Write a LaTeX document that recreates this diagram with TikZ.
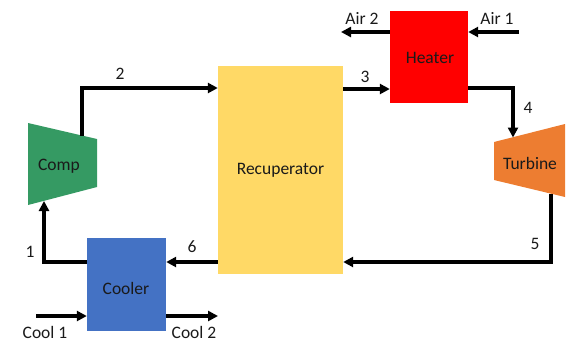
\documentclass[tikz,border=0pt]{standalone}
\usepackage{fontspec}
\setmainfont{Carlito}
\usetikzlibrary{arrows.meta}
\definecolor{recup}{HTML}{FFD966}
\definecolor{heat}{HTML}{FF0000}
\definecolor{cool}{HTML}{4472C4}
\definecolor{comp}{HTML}{359A63}
\definecolor{turb}{HTML}{ED7D31}
\definecolor{txt}{HTML}{1A1A1A}
\tikzset{
  unitbox/.style={fill=#1, draw=none, inner sep=0pt, text=txt},
  flow/.style={line width=3.2pt, -{Triangle[length=10pt,width=10pt]}, line join=miter},
  lbl/.style={text=txt, inner sep=0pt}
}
\begin{document}
\begin{tikzpicture}[x=1pt,y=-1pt,font=\fontsize{17.5}{20}\selectfont]
\useasboundingbox (0,0) rectangle (569,338);
% components
\node[unitbox=recup, minimum width=125pt, minimum height=208pt] (rec) at (280.5,170) {Recuperator};
\node[unitbox=heat, minimum width=78pt, minimum height=92pt] (heater) at (429,57) {};
\node[lbl] (heatertxt) at (430,58) {Heater};
\node[unitbox=cool, minimum width=79pt, minimum height=93pt] (cooler) at (126.5,284.5) {};
\node[lbl] (coolertxt) at (126,288) {Cooler};
\fill[comp] (28,123) -- (97,139) -- (97,187) -- (28,205) -- cycle;
\node[lbl] (comptxt) at (59,166) {Comp};
\fill[turb] (494,142) -- (565,124) -- (565,197) -- (494,180) -- cycle;
\node[lbl] (turbtxt) at (530,163) {Turbine};
% connection points on trapezoids
\coordinate (compout) at (82,135.5);
\coordinate (compin) at (44,201);
\coordinate (turbin) at (513,137.5);
\coordinate (turbout) at (551,194);
\coordinate (air1) at (519,32);
\coordinate (air2) at (341,32);
\coordinate (cool1) at (36,316);
\coordinate (cool2) at (218,316);
% connectors
\draw[flow] (compout) |- (rec.west |- 0,88);
\draw[flow] (rec.east |- 0,89) -- (heater.west |- 0,89);
\draw[flow] (heater.east |- 0,88) -| (turbin);
\draw[flow] (turbout) |- (rec.east |- 0,262);
\draw[flow] (rec.west |- 0,262) -- (cooler.east |- 0,262);
\draw[flow] (cooler.west |- 0,262) -| (compin);
\draw[flow] (air1) -- (heater.east |- air1);
\draw[flow] (heater.west |- air2) -- (air2);
\draw[flow] (cool1) -- (cooler.west |- cool1);
\draw[flow] (cooler.east |- cool2) -- (cool2);
% labels
\node[lbl] (l2) at (120,74) {2};
\node[lbl] (l3) at (365,77) {3};
\node[lbl] (l4) at (528,108) {4};
\node[lbl] (l5) at (535,244) {5};
\node[lbl] (l6) at (192,247) {6};
\node[lbl] (l1) at (30,252) {1};
\node[lbl] (la1) at (497,18) {Air 1};
\node[lbl] (la2) at (362,18) {Air 2};
\node[lbl, anchor=base] (lc1) at (45,338) {Cool 1};
\node[lbl, anchor=base] (lc2) at (194,338) {Cool 2};
\end{tikzpicture}
\end{document}
